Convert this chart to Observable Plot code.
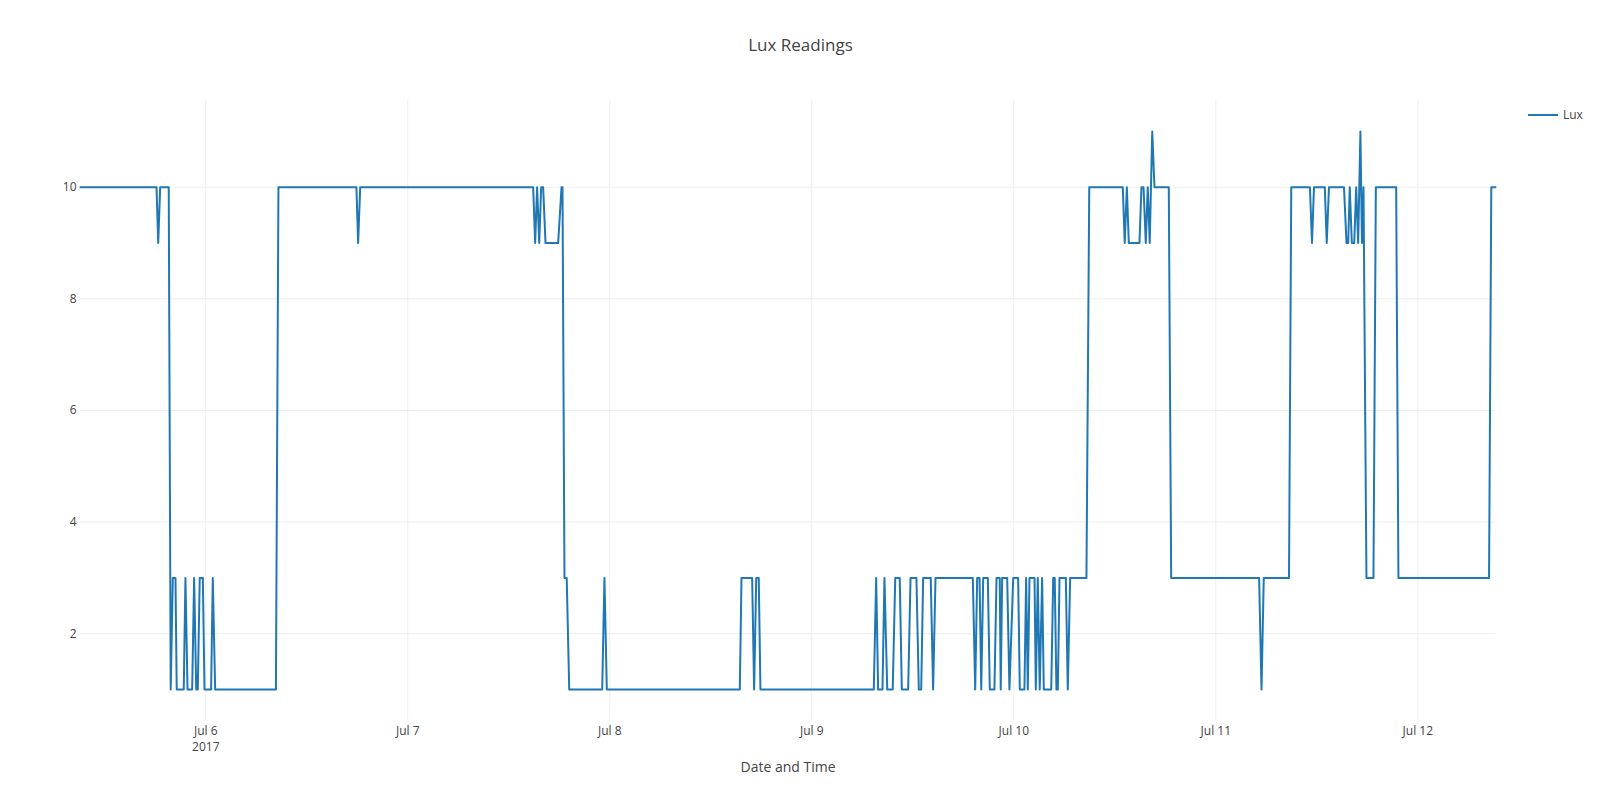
<!DOCTYPE html>
<html>
<head>
<meta charset="utf-8">
<script src="https://cdn.jsdelivr.net/npm/d3@7"></script>
<script src="https://cdn.jsdelivr.net/npm/@observablehq/plot@0.6"></script>
<style>
  html, body { margin: 0; padding: 0; background: #fff; }
  #wrap { position: relative; width: 1600px; height: 800px; }
  #legend { position: absolute; left: 1527px; top: 106px; display: flex; align-items: center;
            font-family: 'Open Sans', sans-serif; font-size: 12px; color: #444; }
</style>
</head>
<body>
<div id="wrap"><div id="chart"></div><div id="legend"></div></div>
<script>
const chartTitle = "Lux Readings";
const xTitle = "Date and Time";
const seriesName = "Lux";

const times = [
"2017-07-05 09:07","2017-07-05 18:09","2017-07-05 18:21","2017-07-05 18:35","2017-07-05 19:36",
"2017-07-05 19:50","2017-07-05 20:05","2017-07-05 20:24","2017-07-05 20:33","2017-07-05 21:23",
"2017-07-05 21:35","2017-07-05 21:50","2017-07-05 22:23","2017-07-05 22:37","2017-07-05 22:52",
"2017-07-05 23:03","2017-07-05 23:17","2017-07-05 23:39","2017-07-05 23:51","2017-07-06 00:38",
"2017-07-06 00:50","2017-07-06 01:07","2017-07-06 08:20","2017-07-06 08:38","2017-07-06 17:54",
"2017-07-06 18:06","2017-07-06 18:21","2017-07-07 14:54","2017-07-07 15:08","2017-07-07 15:22",
"2017-07-07 15:37","2017-07-07 15:51","2017-07-07 16:05","2017-07-07 16:22","2017-07-07 17:52",
"2017-07-07 18:16","2017-07-07 18:23","2017-07-07 18:37","2017-07-07 18:53","2017-07-07 19:11",
"2017-07-07 23:06","2017-07-07 23:22","2017-07-07 23:39","2017-07-08 15:27","2017-07-08 15:39",
"2017-07-08 16:55","2017-07-08 17:09","2017-07-08 17:24","2017-07-08 17:42","2017-07-08 17:54",
"2017-07-09 07:22","2017-07-09 07:39","2017-07-09 07:53","2017-07-09 08:24","2017-07-09 08:38",
"2017-07-09 08:58","2017-07-09 09:37","2017-07-09 09:55","2017-07-09 10:27","2017-07-09 10:42",
"2017-07-09 11:27","2017-07-09 11:44","2017-07-09 12:26","2017-07-09 12:43","2017-07-09 13:00",
"2017-07-09 13:14","2017-07-09 14:08","2017-07-09 14:25","2017-07-09 14:42","2017-07-09 19:08",
"2017-07-09 19:25","2017-07-09 19:39","2017-07-09 19:56","2017-07-09 20:08","2017-07-09 20:22",
"2017-07-09 20:55","2017-07-09 21:09","2017-07-09 21:42","2017-07-09 21:57","2017-07-09 22:20",
"2017-07-09 22:27","2017-07-09 22:37","2017-07-09 23:13","2017-07-09 23:29","2017-07-09 23:56",
"2017-07-10 00:31","2017-07-10 00:43","2017-07-10 01:16","2017-07-10 01:28","2017-07-10 01:40",
"2017-07-10 01:52","2017-07-10 02:28","2017-07-10 02:37","2017-07-10 02:51","2017-07-10 03:05",
"2017-07-10 03:22","2017-07-10 03:34","2017-07-10 04:27","2017-07-10 04:41","2017-07-10 04:52",
"2017-07-10 05:04","2017-07-10 05:14","2017-07-10 05:26","2017-07-10 06:11","2017-07-10 06:25",
"2017-07-10 06:42","2017-07-10 08:38","2017-07-10 08:58","2017-07-10 12:57","2017-07-10 13:11",
"2017-07-10 13:26","2017-07-10 13:40","2017-07-10 14:56","2017-07-10 15:10","2017-07-10 15:25",
"2017-07-10 15:41","2017-07-10 15:55","2017-07-10 16:09","2017-07-10 16:27","2017-07-10 16:43",
"2017-07-10 18:25","2017-07-10 18:42","2017-07-11 05:09","2017-07-11 05:26","2017-07-11 05:42",
"2017-07-11 08:42","2017-07-11 08:58","2017-07-11 11:11","2017-07-11 11:26","2017-07-11 11:40",
"2017-07-11 12:57","2017-07-11 13:11","2017-07-11 13:27","2017-07-11 15:14","2017-07-11 15:32",
"2017-07-11 15:44","2017-07-11 15:55","2017-07-11 16:10","2017-07-11 16:27","2017-07-11 16:41",
"2017-07-11 16:55","2017-07-11 17:11","2017-07-11 17:22","2017-07-11 17:33","2017-07-11 17:54",
"2017-07-11 18:44","2017-07-11 19:01","2017-07-11 21:26","2017-07-11 21:42","2017-07-12 08:28",
"2017-07-12 08:44","2017-07-12 09:14"
];

const lux = [
10,10,9,10,10,
1,3,3,1,1,
3,1,1,3,1,
1,3,3,1,1,
3,1,1,10,10,
9,10,10,9,10,
9,10,10,9,9,
10,10,3,3,1,
1,3,1,1,3,
3,1,3,3,1,
1,3,1,1,3,
1,1,3,3,1,
1,3,3,1,1,
3,3,1,3,3,
1,3,3,1,3,
3,1,1,3,3,
1,3,3,1,3,
3,1,1,3,1,
3,3,1,3,1,
3,1,1,3,3,
1,1,3,3,1,
3,3,10,10,9,
10,9,9,10,10,
9,10,9,11,10,
10,3,3,1,3,
3,10,10,9,10,
10,9,10,10,9,
9,10,9,9,10,
9,11,9,10,3,
3,10,10,3,3,
10,10
];

const xTickDates = ["2017-07-06 00:00","2017-07-07 00:00","2017-07-08 00:00","2017-07-09 00:00",
                    "2017-07-10 00:00","2017-07-11 00:00","2017-07-12 00:00"];
const xTickLabels = ["Jul 6\n2017","Jul 7","Jul 8","Jul 9","Jul 10","Jul 11","Jul 12"];
const yTicks = [2, 4, 6, 8, 10];
const yTickLabels = ["2", "4", "6", "8", "10"];

const parse = d3.timeParse("%Y-%m-%d %H:%M");
const data = times.map((t, i) => ({date: parse(t), lux: lux[i]}));
const xTicks = xTickDates.map(parse);
const xLabelMap = new Map(xTicks.map((d, i) => [+d, xTickLabels[i]]));
const yLabelMap = new Map(yTicks.map((d, i) => [d, yTickLabels[i]]));

const lineColor = "#1f77b4";
const gridColor = "#eee";
const textColor = "#444";

const chart = Plot.plot({
  width: 1600,
  height: 800,
  marginLeft: 80,
  marginRight: 105,
  marginTop: 100,
  marginBottom: 80,
  style: {fontFamily: "'Open Sans', sans-serif", fontSize: "12px", color: textColor, background: "#fff"},
  x: {type: "time", domain: [data[0].date, data[data.length - 1].date]},
  y: {domain: [0.445, 11.555]},
  marks: [
    Plot.gridX(xTicks, {stroke: gridColor, strokeOpacity: 1, strokeWidth: 1}),
    Plot.gridY(yTicks, {stroke: gridColor, strokeOpacity: 1, strokeWidth: 1}),
    Plot.axisX(xTicks, {tickSize: 0, tickPadding: 3, label: null, fill: textColor, fontSize: 12,
                        lineHeight: 1.35, tickFormat: d => xLabelMap.get(+d)}),
    Plot.axisY(yTicks, {tickSize: 0, tickPadding: 4, label: null, fill: textColor, fontSize: 12,
                        tickFormat: d => yLabelMap.get(d)}),
    Plot.lineY(data, {x: "date", y: "lux", stroke: lineColor, strokeWidth: 2, strokeLinejoin: "round"}),
    Plot.text([chartTitle], {frameAnchor: "top", dx: 12.5, dy: -62, fontSize: 17, fill: textColor}),
    Plot.text([xTitle], {frameAnchor: "bottom", dy: 51, fontSize: 14, fill: textColor})
  ]
});
document.getElementById("chart").appendChild(chart);

const legend = document.getElementById("legend");
legend.innerHTML = `<svg width="32" height="16"><line x1="1" x2="31" y1="8" y2="8" stroke="${lineColor}" stroke-width="2"/></svg><span style="margin-left:4px">${seriesName}</span>`;
</script>
</body>
</html>
